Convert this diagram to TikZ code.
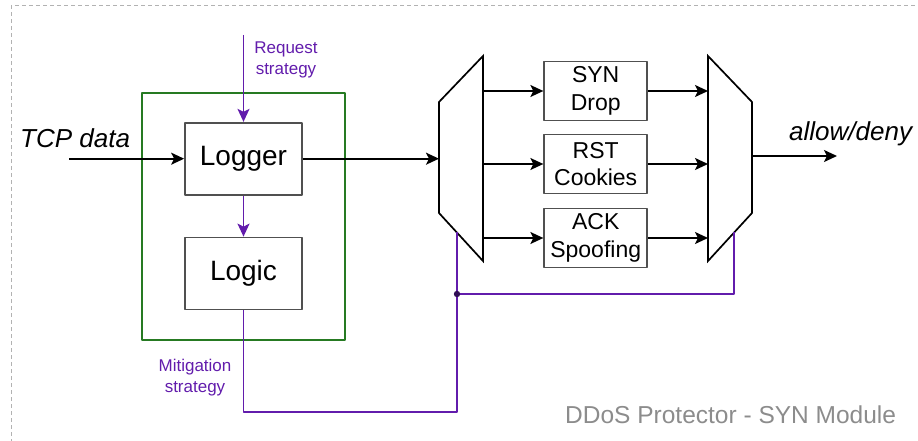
\documentclass[tikz,border=0pt]{standalone}
\usepackage{fontspec}
\setmainfont{Liberation Sans}
\usetikzlibrary{arrows.meta}

\definecolor{ctrl}{RGB}{98,28,172}
\definecolor{frame}{RGB}{38,122,34}
\definecolor{edge}{RGB}{80,80,80}

\tikzset{
  blk/.style={draw=edge,line width=1.7pt,minimum width=117pt,minimum height=72pt,
    font=\fontsize{28}{32}\selectfont},
  algo/.style={draw=edge,line width=1.7pt,minimum width=103pt,minimum height=59pt,
    align=center,inner sep=0pt,font=\fontsize{23}{27.5}\selectfont},
  mux/.style={draw,line width=1.7pt,line join=miter},
  wire/.style={draw,line width=1.7pt},
  ctl/.style={draw=ctrl,line width=1.7pt},
  ctllabel/.style={text=ctrl,align=center,font=\fontsize{17}{21}\selectfont},
  io/.style={font=\fontsize{26}{30}\selectfont\itshape,anchor=base west,inner sep=0pt}
}

\begin{document}
\begin{tikzpicture}[x=1pt,y=-1pt,line join=round,>={Stealth[length=13pt,width=12pt,inset=3pt]}]
  \useasboundingbox (0,0) rectangle (918,441);
  \clip (0,0) rectangle (918,441);
  % outer module border
  \draw[gray!60,line width=1pt,dash pattern=on 4pt off 3pt] (11,450) -- (11,6) -- (930,6);

  % logger and logic block
  \draw[frame,line width=1.7pt] (142,93) rectangle (345,340);
  \node[blk] (logger) at (243.5,158.7) {Logger};
  \node[blk] (logic) at (243.5,273.5) {Logic};

  % the two muxes
  \coordinate (m1nw) at (439,102);
  \coordinate (m1ne) at (483,56);
  \coordinate (m1se) at (483,261);
  \coordinate (m1sw) at (439,213);
  \coordinate (m2nw) at (708,56);
  \coordinate (m2ne) at (752,102);
  \coordinate (m2se) at (752,213);
  \coordinate (m2sw) at (708,261);
  \draw[mux] (m1nw) -- (m1ne) -- (m1se) -- (m1sw) -- cycle;
  \draw[mux] (m2nw) -- (m2ne) -- (m2se) -- (m2sw) -- cycle;

  % mitigation algorithms
  \node[algo] (syn) at (595.7,91) {SYN\\Drop};
  \node[algo] (rst) at (595.7,164) {RST\\Cookies};
  \node[algo] (ack) at (595.7,238) {ACK\\Spoofing};

  % data path
  \coordinate (tcp) at (69,158.7);
  \coordinate (out) at (837,156);
  \node[io] (tcplabel) at (20,147) {TCP data};
  \node[io] (outlabel) at (789,140.5) {allow/deny};
  \draw[wire,->] (tcp) -- (logger);
  \draw[wire,->] (logger) -- (logger -| m1nw);
  \foreach \n in {syn,rst,ack}{
    \draw[wire,->] (m1ne |- \n) -- (\n);
    \draw[wire,->] (\n) -- (\n -| m2nw);
  }
  \draw[wire,->] (m2ne |- out) -- (out);

  % control path
  \coordinate (req) at (243.5,35);
  \coordinate (fb) at (457,412);
  \coordinate (m1b) at (457,232);
  \coordinate (jn) at (457,294);
  \coordinate (m2b) at (734,232);
  \draw[ctl,->] (req) -- (logger);
  \draw[ctl,->] (logger) -- (logic);
  \draw[ctl] (logic.south) |- (fb) -- (m1b);
  \draw[ctl] (jn) -| (m2b);
  \fill[ctrl!50!black] (jn) circle (3.2pt);
  \node[ctllabel] (reqlabel) at (286,59.5) {Request\\strategy};
  \node[ctllabel] (mitlabel) at (195,378) {Mitigation\\strategy};

  \node[text=gray!90,font=\fontsize{24.5}{28}\selectfont,anchor=base west,inner sep=0pt] (title) at (565,423) {DDoS Protector - SYN Module};
\end{tikzpicture}
\end{document}
